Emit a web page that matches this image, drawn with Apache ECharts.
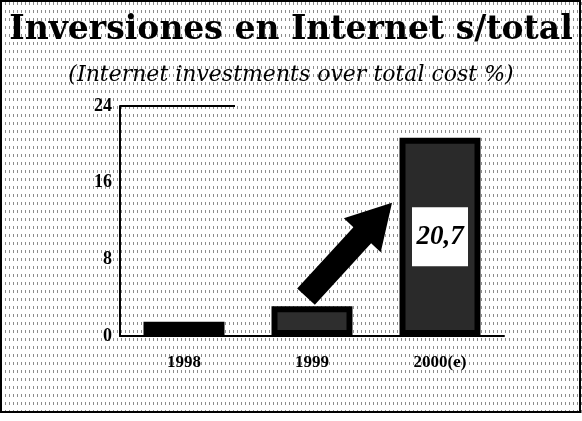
<!DOCTYPE html>
<html><head><meta charset="utf-8">
<script src="https://cdn.jsdelivr.net/npm/echarts@6/dist/echarts.min.js"></script>
<style>html,body{margin:0;padding:0;background:#fff}#c{width:582px;height:421px}</style>
</head><body><div id="c"></div>
<script>
var categories = ['1998', '1999', '2000(e)'];
var values = [1.5, 3.1, 20.7];
var yTicks = [0, 8, 16, 24];
var titleText = 'Inversiones en Internet s/total';
var subtitleText = '(Internet investments over total cost %)';

// background texture tile (style only)
var tile = document.createElement('canvas');
tile.width = 4; tile.height = 8;
var tctx = tile.getContext('2d');
tctx.fillStyle = '#ffffff'; tctx.fillRect(0, 0, 4, 8);
tctx.fillStyle = '#8c8c8c'; tctx.fillRect(1, 2, 1, 3);

var chart = echarts.init(document.getElementById('c'), null, {renderer: 'canvas'});
var serif = '"Liberation Serif", "DejaVu Serif", serif';
var wideSerif = '"DejaVu Serif", "Liberation Serif", serif';
var barColors = ['#000000', '#2e2e2e', '#2a2a2a'];

chart.setOption({
  backgroundColor: {image: tile, repeat: 'repeat'},
  animation: false,
  title: [{
    text: titleText, left: 'center', top: 9,
    textStyle: {fontFamily: wideSerif, fontWeight: 'bold', fontSize: 33, color: '#000'}
  }, {
    text: subtitleText, left: 'center', top: 59,
    textStyle: {fontFamily: wideSerif, fontStyle: 'italic', fontWeight: 'normal', fontSize: 22, color: '#000'}
  }],
  grid: {left: 120, right: 78, top: 106, bottom: 85, show: false},
  xAxis: {
    type: 'category', data: categories,
    axisLine: {lineStyle: {color: '#000', width: 2}},
    axisTick: {show: false},
    axisLabel: {fontFamily: serif, fontWeight: 'bold', fontSize: 17, color: '#000', margin: 18}
  },
  yAxis: {
    type: 'value', min: 0, max: 24, interval: 8,
    axisLine: {show: true, lineStyle: {color: '#000', width: 2}},
    axisTick: {show: false},
    splitLine: {show: false},
    axisLabel: {fontFamily: serif, fontWeight: 'bold', fontSize: 18, color: '#000', margin: 8}
  },
  series: [{
    type: 'bar', barWidth: 81,
    data: values.map(function (v, i) {
      return {
        value: v,
        itemStyle: {color: barColors[i], borderColor: '#000', borderWidth: i === 0 ? 0 : 6},
        label: i === 2 ? {
          show: true, position: 'inside', formatter: function (p) { return String(p.value).replace('.', ','); },
          backgroundColor: '#fff', width: 44, height: 47, padding: [6, 6, 6, 6],
          align: 'center', verticalAlign: 'middle', lineHeight: 47,
          fontFamily: serif, fontStyle: 'italic', fontWeight: 'bold', fontSize: 27, color: '#000'
        } : {show: false}
      };
    })
  }]
});

function drawDecor() {
  var p1 = chart.convertToPixel({seriesIndex: 0}, [1, 4.1]);
  var p2 = chart.convertToPixel({seriesIndex: 0}, [2, 13.9]);
  var tail = [p1[0] - 6, p1[1]];
  var tip = [p2[0] - 48, p2[1]];
  var dx = tip[0] - tail[0], dy = tip[1] - tail[1];
  var len = Math.sqrt(dx * dx + dy * dy);
  var ux = dx / len, uy = dy / len, nx = -uy, ny = ux;
  var headLen = 44, headHalf = 25, shaftHalf = 12;
  var bx = tip[0] - ux * headLen, by = tip[1] - uy * headLen;
  var pts = [
    [tail[0] + nx * shaftHalf, tail[1] + ny * shaftHalf],
    [bx + nx * shaftHalf, by + ny * shaftHalf],
    [bx + nx * headHalf, by + ny * headHalf],
    tip,
    [bx - nx * headHalf, by - ny * headHalf],
    [bx - nx * shaftHalf, by - ny * shaftHalf],
    [tail[0] - nx * shaftHalf, tail[1] - ny * shaftHalf]
  ];
  var top = chart.convertToPixel({seriesIndex: 0}, [0, 24]);
  chart.setOption({
    graphic: [
      {type: 'polygon', shape: {points: pts}, style: {fill: '#000'}, z: 10},
      {type: 'line', shape: {x1: 120, y1: top[1], x2: 235, y2: top[1]}, style: {stroke: '#000', lineWidth: 2}, z: 10},
      {type: 'rect', shape: {x: 1, y: 1, width: 579, height: 411}, style: {fill: 'none', stroke: '#000', lineWidth: 2}, z: 10},
      {type: 'rect', shape: {x: 0, y: 413, width: 582, height: 8}, style: {fill: '#fff'}, z: 10}
    ]
  });
}
drawDecor();
</script></body></html>
